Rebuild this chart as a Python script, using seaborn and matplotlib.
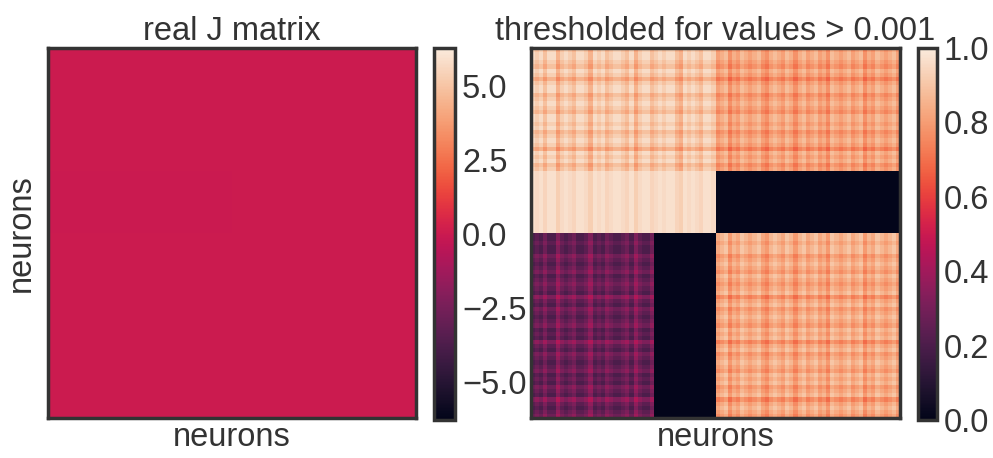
import numpy as np
import pandas as pd
import seaborn as sns
import matplotlib
matplotlib.use("Agg")
import matplotlib.pyplot as plt

# ---------------- data ----------------
titles = ["real J matrix", "thresholded for values > 0.001"]
axis_label = "neurons"

# block layout (fractions of the neuron axis)
row_split = [0.333, 0.5]      # row boundaries
col_split_top = [0.5]         # column boundary in upper rows
col_split_bottom = [0.333, 0.5]

# block levels of thresholded matrix
top_left_level = 0.96
top_right_level = 0.88
mid_left_level = 0.97
mid_right_level = 0.0
bot_left_level = 0.2
bot_mid_level = 0.0
bot_right_level = 0.9

# real J matrix: almost exactly zero; colour range
j_block_level = -0.03
j_vmin, j_vmax = -6.3, 6.3
j_ticks = [-5.0, -2.5, 0.0, 2.5, 5.0]
t_ticks = [0.0, 0.2, 0.4, 0.6, 0.8, 1.0]

# stripe strengths per neuron (0..3), read roughly from the stripes
col_dip = [0, 1, 0, 2, 0, 0, 3, 1, 0, 1, 2, 0, 0, 1, 3, 0, 1, 0, 2, 1,
           0, 0, 1, 2, 0, 3, 1, 0, 0, 2, 1, 0, 1, 0, 0, 2, 3, 0, 1, 0,
           1, 2, 0, 0, 1, 2, 1, 0, 3, 1, 2, 0, 1, 2, 1, 0, 2, 3, 1, 0,
           1, 2, 0, 1, 3, 1, 0, 2, 1, 0, 2, 1, 3, 0, 1, 2, 1, 0, 2, 1,
           0, 3, 1, 2, 0, 1, 2, 1, 0, 2]
row_dip = [1, 0, 0, 1, 2, 0, 1, 3, 1, 0, 0, 2, 1, 0, 1, 2, 0, 0, 1, 0,
           2, 1, 0, 1, 3, 0, 1, 0, 2, 1, 0, 1, 0, 0, 1, 0, 0, 1, 0, 0,
           0, 1, 0, 0, 1, 0, 0, 1, 0, 0, 2, 1, 0, 1, 2, 0, 1, 2, 1, 0,
           3, 1, 0, 2, 1, 0, 1, 2, 0, 1, 0, 3, 1, 0, 2, 1, 0, 1, 2, 0,
           1, 0, 2, 1, 0, 3, 1, 0, 1, 2]

# ---------------- build matrices ----------------
n = len(col_dip)
r1, r2 = int(round(row_split[0] * n)), int(round(row_split[1] * n))
c_half = int(round(col_split_top[0] * n))
c_third = int(round(col_split_bottom[0] * n))
cd = np.array(col_dip, dtype=float)[None, :]
rd = np.array(row_dip, dtype=float)[:, None]

T = np.zeros((n, n))
T[:r1, :c_half] = top_left_level - 0.035 * (rd[:r1] + cd[:, :c_half])
T[:r1, c_half:] = top_right_level - 0.035 * (rd[:r1] + cd[:, c_half:])
T[r1:r2, :c_half] = mid_left_level - 0.015 * cd[:, :c_half] + 0 * rd[r1:r2]
T[r1:r2, c_half:] = mid_right_level
T[r2:, :c_third] = bot_left_level + 0.04 * (rd[r2:] + cd[:, :c_third])
T[r2:, c_third:c_half] = bot_mid_level
T[r2:, c_half:] = bot_right_level - 0.035 * (rd[r2:] + cd[:, c_half:])
T = np.clip(T, 0, 1)

J = np.zeros((n, n))
J[r1:r2, :c_half] = j_block_level

dfJ = pd.DataFrame(J)
dfT = pd.DataFrame(T)

# ---------------- plot ----------------
sns.set_style("white")
plt.rcParams["font.family"] = ["Liberation Sans", "DejaVu Sans"]
FS = 23.5
plt.rcParams["font.size"] = FS

W, H = 993, 458
fig = plt.figure(figsize=(W / 100, H / 100), dpi=100)

def px(x0, y0, x1, y1):
    return [x0 / W, 1 - y1 / H, (x1 - x0) / W, (y1 - y0) / H]

ax1 = fig.add_axes(px(48, 48, 416, 418))
cax1 = fig.add_axes(px(434, 48, 455, 420))
ax2 = fig.add_axes(px(531, 48, 900, 418))
cax2 = fig.add_axes(px(918, 48, 937, 420))

edge = "#333333"
for ax, cax, df, vmin, vmax, ticks, title in [
        (ax1, cax1, dfJ, j_vmin, j_vmax, j_ticks, titles[0]),
        (ax2, cax2, dfT, 0.0, 1.0, t_ticks, titles[1])]:
    sns.heatmap(df, ax=ax, cbar_ax=cax, cmap="rocket", vmin=vmin, vmax=vmax,
                xticklabels=False, yticklabels=False,
                cbar_kws={"ticks": ticks})
    for sp in ax.spines.values():
        sp.set_visible(True)
        sp.set_linewidth(2.5)
        sp.set_edgecolor(edge)
    ax.set_title(title, fontsize=FS, color="#333333", pad=6)
    ax.set_xlabel(axis_label, fontsize=FS, color="#333333", labelpad=3)
    cb = ax.collections[0].colorbar
    cb.outline.set_visible(True)
    cb.outline.set_linewidth(2.5)
    cb.outline.set_edgecolor(edge)
    cax.tick_params(labelsize=FS, colors="#333333", length=0, pad=5)
    cax.set_yticklabels([f"{t:.1f}".replace("-", "\u2212") for t in ticks])

ax1.set_ylabel(axis_label, fontsize=FS, color="#333333", labelpad=8)
ax2.set_ylabel("")

fig.savefig("out.png", dpi=100)
